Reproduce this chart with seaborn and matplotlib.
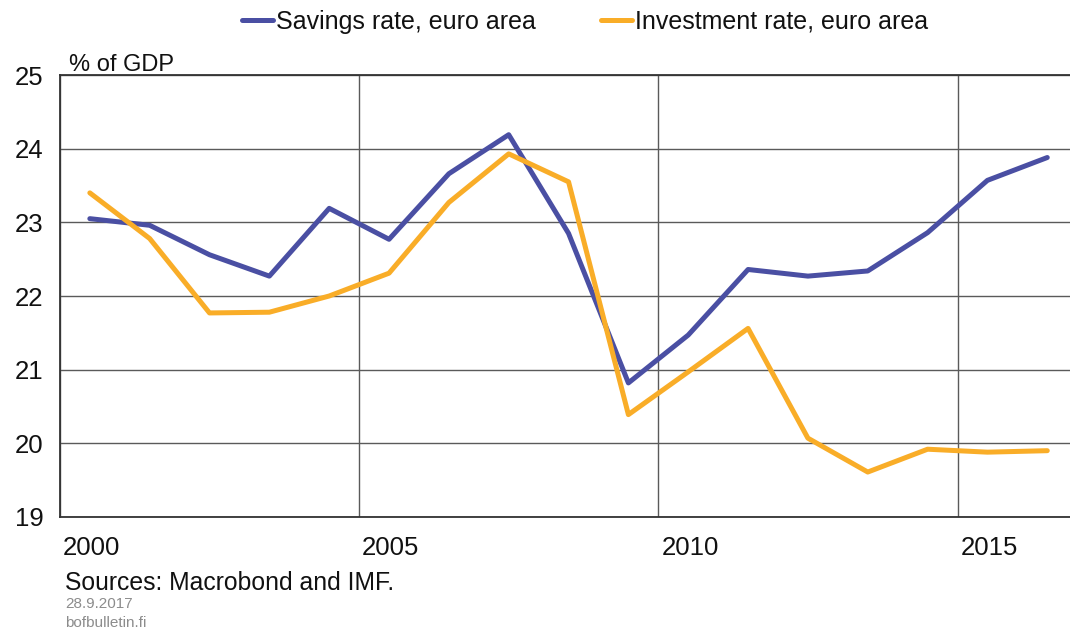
import pandas as pd
import numpy as np
import matplotlib
matplotlib.use("Agg")
import matplotlib.pyplot as plt
import seaborn as sns

# Data (annual, % of GDP)
years = list(range(2000, 2017))
savings_rate = [23.05, 22.96, 22.56, 22.27, 23.19, 22.77, 23.66, 24.19, 22.85,
                20.82, 21.47, 22.36, 22.27, 22.34, 22.86, 23.57, 23.88]
investment_rate = [23.40, 22.78, 21.77, 21.78, 22.00, 22.31, 23.27, 23.93, 23.55,
                   20.39, 20.97, 21.56, 20.07, 19.61, 19.92, 19.88, 19.90]
series_names = ["Savings rate, euro area", "Investment rate, euro area"]
series_colors = ["#4a4fa3", "#f9ad28"]
y_ticks = [19, 20, 21, 22, 23, 24, 25]
x_labels = [2000, 2005, 2010, 2015]

df = pd.DataFrame({
    "year": years * 2,
    "value": savings_rate + investment_rate,
    "series": [series_names[0]] * len(years) + [series_names[1]] * len(years),
})
# annual observations are drawn at mid-year
df["x"] = df["year"] + 0.5

sns.set_style("white")
plt.rcParams["font.family"] = ["Liberation Sans", "DejaVu Sans"]
plt.rcParams["text.color"] = "#111111"
plt.rcParams["xtick.labelcolor"] = "#111111"
plt.rcParams["ytick.labelcolor"] = "#111111"

fig = plt.figure(figsize=(10.7, 6.31), dpi=100)
ax = fig.add_axes([0.056, 0.1807, 0.944, 0.7004])

sns.lineplot(data=df, x="x", y="value", hue="series", hue_order=series_names,
             palette=series_colors, linewidth=3.6, ax=ax, legend=False,
             solid_capstyle="round", zorder=3)

ax.set_xlim(2000, 2016.88)
ax.set_ylim(19, 25)
ax.set_xlabel("")
ax.set_ylabel("")

# grid
ax.set_yticks(y_ticks)
ax.set_xticks(x_labels)
ax.set_xticks(years, minor=True)
ax.grid(True, which="major", color="#5a5a5a", linewidth=1.0, zorder=1)
ax.tick_params(axis="y", length=0, pad=12, labelsize=18.5)
ax.tick_params(axis="x", which="major", length=0, pad=14, labelsize=18.5)
ax.tick_params(axis="x", which="minor", length=5, direction="in", width=0.9,
               color="#333333")
for lbl in ax.get_xticklabels():
    lbl.set_horizontalalignment("left")
    lbl.set_transform(lbl.get_transform() + matplotlib.transforms.ScaledTranslation(
        3 / 100, 0, fig.dpi_scale_trans))

for side in ["left", "bottom", "top"]:
    ax.spines[side].set_visible(True)
    ax.spines[side].set_color("#333333")
    ax.spines[side].set_linewidth(1.3)
ax.spines["right"].set_visible(False)

ax.text(0.009, 0.998, "% of GDP", transform=ax.transAxes, fontsize=17,
        ha="left", va="bottom")

# legend at the top
handles = [plt.Line2D([], [], color=c, linewidth=3.6) for c in series_colors]
fig.legend(handles, series_names, loc="upper center", ncol=2, frameon=False,
           fontsize=18, handlelength=1.25, handletextpad=0.12, columnspacing=2.6,
           bbox_to_anchor=(0.547, 1.02))

fig.text(0.061, 0.076, "Sources: Macrobond and IMF.", fontsize=17.8,
         ha="left", va="center")
fig.text(0.061, 0.042, "28.9.2017", fontsize=11, color="#8c8c8c",
         ha="left", va="center")
fig.text(0.061, 0.013, "bofbulletin.fi", fontsize=11, color="#8c8c8c",
         ha="left", va="center")

fig.savefig("out.png", dpi=100)
